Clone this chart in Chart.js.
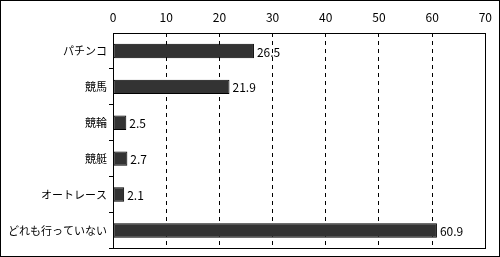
<!DOCTYPE html>
<html>
<head>
<meta charset="utf-8">
<script src="https://cdn.jsdelivr.net/npm/chart.js@4"></script>
<style>
    html, body { margin: 0; padding: 0; background: #fff; }
    #wrap { width: 500px; height: 257px; box-sizing: border-box; border: 1px solid #000; position: relative; }
    canvas { position: absolute; left: -1px; top: -1px; }
</style>
</head>
<body>
<div id="wrap"><canvas id="chart" width="500" height="257"></canvas></div>
<script>
// Data
const categories = ['パチンコ', '競馬', '競輪', '競艇', 'オートレース', 'どれも行っていない'];
const values = [26.5, 21.9, 2.5, 2.7, 2.1, 60.9];
const xTicks = [0, 10, 20, 30, 40, 50, 60, 70];

const fontFamily = '"Noto Sans CJK JP", "DejaVu Sans", sans-serif';

// Draws the value next to each bar end
const valueLabels = {
    id: 'valueLabels',
    afterDatasetsDraw(chart) {
        const ctx = chart.ctx;
        const meta = chart.getDatasetMeta(0);
        ctx.save();
        ctx.fillStyle = '#000';
        ctx.font = '12px ' + fontFamily;
        ctx.textBaseline = 'middle';
        meta.data.forEach((bar, i) => {
            ctx.fillText(values[i].toFixed(1), bar.x + 3, bar.y + 1);
        });
        ctx.restore();
    }
};

// Solid frame round the plot area
const plotFrame = {
    id: 'plotFrame',
    afterDraw(chart) {
        const a = chart.chartArea;
        const ctx = chart.ctx;
        ctx.save();
        ctx.strokeStyle = '#000';
        ctx.lineWidth = 1;
        ctx.strokeRect(Math.round(a.left) + 0.5, Math.round(a.top) + 0.5,
            Math.round(a.right - a.left), Math.round(a.bottom - a.top));
        ctx.restore();
    }
};

const ctx = document.getElementById('chart').getContext('2d');
new Chart(ctx, {
    type: 'bar',
    data: {
        labels: categories,
        datasets: [{
            data: values,
            backgroundColor: '#333333',
            borderColor: '#000000',
            borderWidth: 1,
            borderSkipped: false,
            categoryPercentage: 1,
            barPercentage: 0.4
        }]
    },
    options: {
        indexAxis: 'y',
        responsive: false,
        animation: false,
        layout: { padding: { left: 0, right: 12, top: 0, bottom: 4 } },
        plugins: {
            legend: { display: false },
            tooltip: { enabled: false }
        },
        scales: {
            x: {
                position: 'top',
                min: 0,
                max: 70,
                afterBuildTicks: scale => { scale.ticks = xTicks.map(v => ({ value: v })); },
                afterFit: scale => { scale.height = 33; },
                ticks: {
                    color: '#000',
                    font: { size: 12, family: fontFamily },
                    padding: 8
                },
                grid: {
                    drawTicks: false,
                    color: c => (c.tick && (c.tick.value === 0 || c.tick.value === 70)) ? 'rgba(0,0,0,0)' : '#000'
                },
                border: { display: false, dash: [4, 4] }
            },
            y: {
                afterFit: scale => { scale.width = 113; },
                ticks: {
                    color: '#000',
                    font: { size: 11, family: fontFamily },
                    padding: 2
                },
                grid: {
                    offset: true,
                    drawOnChartArea: false,
                    tickLength: 4,
                    color: c => (c.index === 0 || c.index === categories.length) ? 'rgba(0,0,0,0)' : '#000'
                },
                border: { display: false }
            }
        }
    },
    plugins: [valueLabels, plotFrame]
});
</script>
</body>
</html>
